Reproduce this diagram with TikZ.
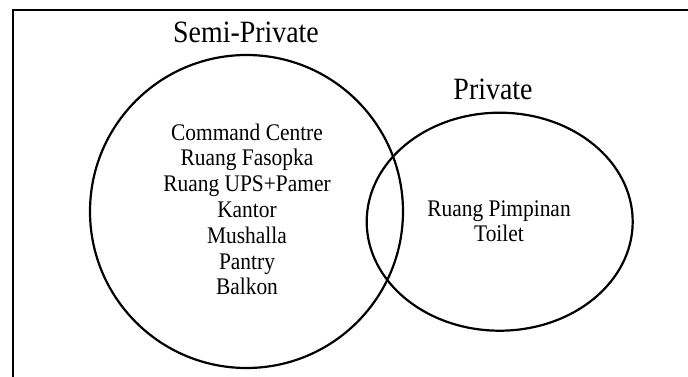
\documentclass[tikz,border=0pt]{standalone}
\usepackage{fontspec}
\setmainfont{Liberation Serif}
\newfontfamily\narrowserif{Liberation Serif}[FakeStretch=0.9]
\begin{document}
\begin{tikzpicture}[x=1pt,y=1pt,
  ring/.style={draw=black,line width=2.2pt},
  frameline/.style={draw=black,line width=2.2pt},
  title/.style={font=\narrowserif\fontsize{31}{35}\selectfont,anchor=base,inner sep=0pt},
  item/.style={font=\narrowserif\fontsize{23.8}{27}\selectfont,anchor=base,inner sep=0pt}]
\useasboundingbox (0,0) rectangle (688,376);
% frame (top and left sides only visible)
\coordinate (fbl) at (12.7,-2);
\coordinate (ftl) at (12.7,366);
\coordinate (ftr) at (690,366);
\draw[frameline] (fbl) -- (ftl) -- (ftr);
% sets
\draw[ring] (246.5,164.5) circle [radius=156.5];
\draw[ring] (499.7,154.3) ellipse [x radius=133, y radius=109];
% titles
\node[title] (semi) at (246,333.7) {Semi-Private};
\node[title] (priv) at (493,276.7) {Private};
% left items
\foreach \t [count=\i from 0] in {Command Centre,Ruang Fasopka,Ruang UPS+Pamer,Kantor,Mushalla,Pantry,Balkon}
  \node[item] (l\i) at (247,236-25.8*\i) {\t};
% right items
\node[item] (r0) at (499,159.3) {Ruang Pimpinan};
\node[item] (r1) at (499,135) {Toilet};
\end{tikzpicture}
\end{document}
